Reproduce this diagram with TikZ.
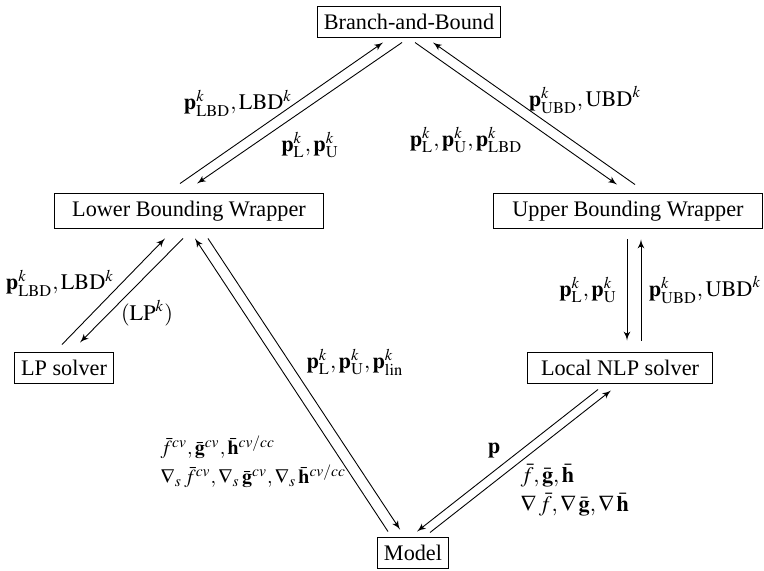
\documentclass[tikz,border=0pt]{standalone}
\usepackage{mathptmx}
\usepackage{fontspec}
\setmainfont{Liberation Serif}
\usetikzlibrary{positioning,arrows,calc}
\tikzset{
block/.style = {draw, align=center, rectangle, minimum height=14pt, inner xsep=3pt},
lbl/.style = {inner sep=1pt},
}

\begin{document}
\begin{tikzpicture}[x=0.45pt, y=-0.45pt, >=latex']

	\useasboundingbox (0,0) rectangle (764,570);

	\node[block] (bnb) at (409,22) {Branch-and-Bound};
	\node[block, minimum width=121pt] (lbw) at (189,211) {Lower Bounding Wrapper};
	\node[block, minimum width=121pt] (ubw) at (628,211) {Upper Bounding Wrapper};
	\node[block] (lp) at (64,368) {LP solver};
	\node[block, minimum width=83pt] (nlp) at (620,368) {Local NLP solver};
	\node[block] (model) at (413,553) {Model};

	% branch-and-bound <-> wrappers
	\draw[->] ($(lbw.north)+(-9,-9.5)$) -- ($(bnb.south)+(-26,4.5)$);
	\draw[->] ($(bnb.south)+(-7,4.5)$) -- ($(lbw.north)+(8,-9.5)$);
	\draw[->] ($(bnb.south)+(6,4.5)$) -- ($(ubw.north)+(-11,-8.5)$);
	\draw[->] ($(ubw.north)+(7,-8.5)$) -- ($(bnb.south)+(24,4.5)$);

	% lower side
	\draw[->] ($(lp.north)+(-2,-7.5)$) -- ($(lbw.south)+(-24,9.5)$);
	\draw[->] ($(lbw.south)+(-6,9.5)$) -- ($(lp.north)+(16,-9.5)$);
	\draw[->] ($(model.north)+(-25,-5.5)$) -- ($(lbw.south)+(6,9.5)$);
	\draw[->] ($(lbw.south)+(19,9.5)$) -- ($(model.north)+(-13,-7.5)$);

	% upper side
	\draw[->] ($(ubw.south)+(-1,10.5)$) -- ($(nlp.north)+(7,-11.5)$);
	\draw[->] ($(nlp.north)+(21,-11.5)$) -- ($(ubw.south)+(13,10.5)$);
	\draw[->] ($(nlp.south)+(-22,5.5)$) -- ($(model.north)+(4,-5.5)$);
	\draw[->] ($(model.north)+(17,-4.5)$) -- ($(nlp.south)+(-9,6.5)$);

	% labels
	\node[lbl] (lbdup) at (238,103) {$\mathbf{p}^k_{\mathrm{LBD}},\mathrm{LBD}^k$};
	\node[lbl] (bndlow) at (310,145) {$\mathbf{p}^k_{\mathrm{L}},\mathbf{p}^k_{\mathrm{U}}$};
	\node[lbl] (ubdup) at (585,100) {$\mathbf{p}^k_{\mathrm{UBD}},\mathrm{UBD}^k$};
	\node[lbl] (bndup) at (466,140) {$\mathbf{p}^k_{\mathrm{L}},\mathbf{p}^k_{\mathrm{U}},\mathbf{p}^k_{\mathrm{LBD}}$};
	\node[lbl] (lbdlp) at (60,283) {$\mathbf{p}^k_{\mathrm{LBD}},\mathrm{LBD}^k$};
	\node[lbl] (lpprob) at (147,313) {$(\mathrm{LP}^k)$};
	\node[lbl] (bndlin) at (355,362) {$\mathbf{p}^k_{\mathrm{L}},\mathbf{p}^k_{\mathrm{U}},\mathbf{p}^k_{\mathrm{lin}}$};
	\node[lbl, anchor=west, align=left, font=\small] (relax) at (158,462) {$\bar{f}^{cv},\bar{\mathbf{g}}^{cv},\bar{\mathbf{h}}^{cv/cc}$\\[2pt]$\nabla_s\,\bar{f}^{cv},\nabla_s\,\bar{\mathbf{g}}^{cv},\nabla_s\,\bar{\mathbf{h}}^{cv/cc}$};
	\node[lbl] (pnt) at (494,450) {$\mathbf{p}$};
	\node[lbl, anchor=west, align=left] (orig) at (518,490) {$\bar{f},\bar{\mathbf{g}},\bar{\mathbf{h}}$\\[1pt]$\nabla\,\bar{f},\nabla\,\bar{\mathbf{g}},\nabla\,\bar{\mathbf{h}}$};
	\node[lbl] (bndnlp) at (588,290) {$\mathbf{p}^k_{\mathrm{L}},\mathbf{p}^k_{\mathrm{U}}$};
	\node[lbl] (ubdnlp) at (705,290) {$\mathbf{p}^k_{\mathrm{UBD}},\mathrm{UBD}^k$};

\end{tikzpicture}
\end{document}
